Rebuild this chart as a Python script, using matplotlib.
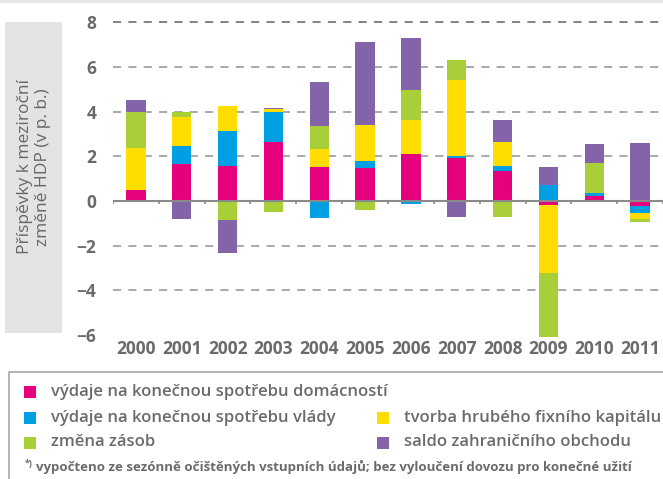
import numpy as np
import matplotlib
matplotlib.use("Agg")
import matplotlib.pyplot as plt
from matplotlib.patches import Rectangle

plt.rcParams['font.family'] = ['Open Sans', 'DejaVu Sans']

years = ['2000', '2001', '2002', '2003', '2004', '2005',
         '2006', '2007', '2008', '2009', '2010', '2011']

# contributions to y/y GDP change (p.p.)
households = [0.49, 1.66, 1.57, 2.64, 1.52, 1.48, 2.10, 1.93, 1.34, -0.18, 0.22, -0.22]
government = [0.00, 0.80, 1.56, 1.35, -0.76, 0.31, -0.13, 0.09, 0.22, 0.72, 0.14, -0.31]
gfcf = [1.90, 1.30, 1.12, 0.13, 0.81, 1.61, 1.53, 3.40, 1.07, -3.04, 0.00, -0.27]
inventories = [1.60, 0.23, -0.85, -0.49, 1.03, -0.40, 1.34, 0.89, -0.72, -2.90, 1.34, -0.13]
trade = [0.53, -0.81, -1.48, 0.04, 1.97, 3.72, 2.33, -0.72, 0.99, 0.80, 0.85, 2.60]

labels = ['výdaje na konečnou spotřebu domácností',
          'výdaje na konečnou spotřebu vlády',
          'tvorba hrubého fixního kapitálu',
          'změna zásob',
          'saldo zahraničního obchodu']
colors = ['#E6007E', '#009FE3', '#FFDD00', '#A8CF38', '#8464A8']
series = [households, government, gfcf, inventories, trade]

txt = '#6b6b6b'

fig = plt.figure(figsize=(6.63, 4.79), dpi=100)
W, H = 663.0, 479.0

# top grey stripe
fig.add_artist(Rectangle((0, 1 - 3 / H), 1, 3 / H, transform=fig.transFigure,
                         color='#e6e6e6', lw=0))

ax = fig.add_axes([113 / W, 1 - 337 / H, 1 - 113 / W, (337 - 9) / H])
x = np.arange(len(years))
pos = np.zeros(len(years))
neg = np.zeros(len(years))
for vals, c in zip(series, colors):
    v = np.array(vals)
    base = np.where(v >= 0, pos, neg)
    ax.bar(x, v, width=0.42, bottom=base, color=c, lw=0, zorder=3)
    pos = pos + np.where(v >= 0, v, 0)
    neg = neg + np.where(v < 0, v, 0)

ax.set_xlim(-0.5, len(years) - 0.5)
ax.set_ylim(-6.1, 8.6)
ax.set_yticks([-6, -4, -2, 0, 2, 4, 6, 8])
ax.set_yticklabels(['\u22126', '\u22124', '\u22122', '0', '2', '4', '6', '8'])
ax.set_xticks(x)
ax.set_xticklabels(years)
ax.tick_params(axis='both', length=0, colors=txt, labelsize=12.5)
ax.tick_params(axis='y', pad=12)
ax.tick_params(axis='x', pad=2.5)
for t in ax.get_xticklabels() + ax.get_yticklabels():
    t.set_fontweight('bold')
for s in ax.spines.values():
    s.set_visible(False)

for yv in [-4, -2, 2, 4, 6, 8]:
    gc = '#7a7a7a' if yv == 8 else '#a3a3a3'
    ax.axhline(yv, color=gc, lw=1.3, dashes=(4.5, 4), zorder=1)
ax.axhline(0, color='#8a8a8a', lw=1.5, zorder=4)
ax.vlines(np.arange(len(years) + 1) - 0.5, -0.13, 0, color='#8a8a8a', lw=1.2, zorder=4)

# y label box
fig.add_artist(Rectangle((5 / W, 1 - 333 / H), 57 / W, 311 / H,
                         transform=fig.transFigure, color='#e3e3e3', lw=0))
fig.text(34 / W, 1 - 167 / H, 'Příspěvky k meziroční\nzměně HDP (v p. b.)',
         rotation=90, ha='center', va='center', ma='center',
         fontsize=12.5, color='#666666', linespacing=1.2)

# legend box
fig.add_artist(Rectangle((9 / W, -0.01), 1, (479 - 372) / H + 0.01,
                         transform=fig.transFigure, fill=False,
                         edgecolor='#a8a8a8', lw=1.2))
entries = [(0, 24, 51, 391.5), (1, 24, 51, 417.5), (2, 377, 404, 417.5),
           (3, 24, 51, 442.5), (4, 377, 404, 442.5)]
for i, mx, tx, ty in entries:
    fig.add_artist(Rectangle((mx / W, 1 - (ty + 6) / H), 12 / W, 12 / H,
                             transform=fig.transFigure, color=colors[i], lw=0))
    fig.text(tx / W, 1 - ty / H, labels[i], ha='left', va='center',
             fontsize=12, color=txt, fontweight='semibold')

fig.text(25 / W, 1 - 464 / H, '*)', ha='left', va='center', fontsize=6.5,
         color=txt, fontweight='bold')
fig.text(36 / W, 1 - 467.5 / H,
         'vypočteno ze sezónně očištěných vstupních údajů; bez vyloučení dovozu pro konečné užití',
         ha='left', va='center', fontsize=9.5, color=txt, fontweight='bold')

fig.savefig('out.png', dpi=100)
